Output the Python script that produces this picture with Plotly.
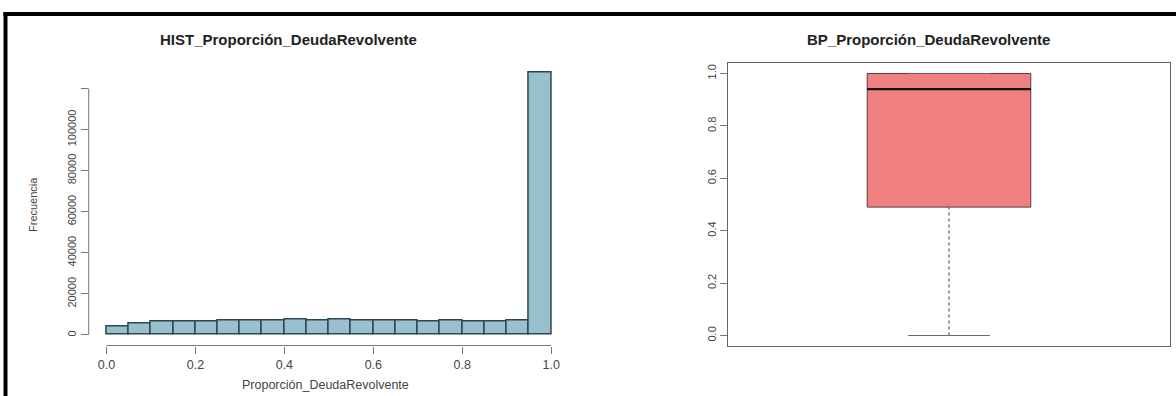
import plotly.graph_objects as go

# ---------------- data ----------------
bin_left = [0.00, 0.05, 0.10, 0.15, 0.20, 0.25, 0.30, 0.35, 0.40, 0.45,
            0.50, 0.55, 0.60, 0.65, 0.70, 0.75, 0.80, 0.85, 0.90, 0.95]
bin_width = 0.05
hist_counts = [3900, 5700, 6400, 6800, 6800, 6900, 6900, 6900, 7400, 6900,
               7400, 7000, 6900, 6900, 6800, 6900, 6800, 6800, 7000, 128000]

hist_yticks = [0, 20000, 40000, 60000, 80000, 100000, 120000]
hist_yticklabels = ["0", "20000", "40000", "60000", "80000", "100000", ""]
hist_xticks = [0.0, 0.2, 0.4, 0.6, 0.8, 1.0]
hist_xticklabels = ["0.0", "0.2", "0.4", "0.6", "0.8", "1.0"]

bp_min = 0.0
bp_q1 = 0.49
bp_median = 0.94
bp_q3 = 1.0
bp_max = 1.0
bp_yticks = [0.0, 0.2, 0.4, 0.6, 0.8, 1.0]
bp_yticklabels = ["0.0", "0.2", "0.4", "0.6", "0.8", "1.0"]

hist_title = "HIST_Proporción_DeudaRevolvente"
bp_title = "BP_Proporción_DeudaRevolvente"
hist_xlabel = "Proporción_DeudaRevolvente"
hist_ylabel = "Frecuencia"

# ---------------- layout constants ----------------
W, H = 1176, 396
FONT = "Liberation Sans, Arial, sans-serif"
TICK_COLOR = "#444"
AXIS_COLOR = "#777"


def px_x(p):
    return p / W


def px_y(p):
    return 1 - p / H


hist_dom_x = [px_x(88.7), px_x(569)]
hist_dom_y = [px_y(345.5), px_y(61.5)]
bp_dom_x = [px_x(728), px_x(1170)]
bp_dom_y = [px_y(346), px_y(63)]

ymax = max(hist_counts)
bp_lo = min(bp_min, bp_q1)
bp_hi = max(bp_max, bp_q3)
bp_pad = 0.04 * (bp_hi - bp_lo)

fig = go.Figure()

# histogram bars
fig.add_trace(go.Bar(
    x=[l + bin_width / 2 for l in bin_left],
    y=hist_counts,
    width=bin_width,
    marker=dict(color="#99C0CD", line=dict(color="#2C4652", width=1.5)),
    xaxis="x", yaxis="y", showlegend=False, hoverinfo="x+y",
))

# box body
BOX_W = 0.37
fig.add_trace(go.Box(
    x=[0], q1=[bp_q1], median=[bp_median], q3=[bp_q3],
    lowerfence=[bp_q1], upperfence=[bp_q3],
    width=BOX_W, whiskerwidth=0, boxpoints=False, orientation="v",
    fillcolor="#F08080", line=dict(color="#5a3a3a", width=1),
    xaxis="x2", yaxis="y2", showlegend=False,
))
# whiskers (dotted)
for lo, hi in [(bp_min, bp_q1), (bp_q3, bp_max)]:
    fig.add_trace(go.Scatter(
        x=[0, 0], y=[lo, hi], mode="lines",
        line=dict(color="#666", width=1.3, dash="dot"),
        xaxis="x2", yaxis="y2", showlegend=False, hoverinfo="skip",
    ))
# caps
for v in [bp_min, bp_max]:
    fig.add_trace(go.Scatter(
        x=[-BOX_W / 4, BOX_W / 4], y=[v, v], mode="lines",
        line=dict(color="#666", width=1),
        xaxis="x2", yaxis="y2", showlegend=False, hoverinfo="skip",
    ))
# median
fig.add_trace(go.Scatter(
    x=[-BOX_W / 2, BOX_W / 2], y=[bp_median, bp_median], mode="lines",
    line=dict(color="#111", width=2.2),
    xaxis="x2", yaxis="y2", showlegend=False, hoverinfo="skip",
))

tickfont = dict(family=FONT, size=11, color=TICK_COLOR)

fig.update_layout(
    width=W, height=H,
    margin=dict(l=0, r=0, t=0, b=0),
    paper_bgcolor="white", plot_bgcolor="white",
    template="none",
    bargap=0,
    xaxis=dict(
        domain=hist_dom_x, range=[-0.04, 1.04], anchor="y",
        tickvals=hist_xticks, ticktext=hist_xticklabels,
        ticks="outside", ticklen=7, tickcolor=AXIS_COLOR, tickwidth=1,
        showline=False, showgrid=False, zeroline=False, automargin=False,
        tickfont=dict(family=FONT, size=12.5, color=TICK_COLOR),
    ),
    yaxis=dict(
        domain=hist_dom_y, range=[-0.04 * ymax, 1.04 * ymax], anchor="x",
        tickvals=hist_yticks, ticktext=hist_yticklabels, tickangle=-90,
        ticks="outside", ticklen=7, tickcolor=AXIS_COLOR, tickwidth=1,
        showline=False, showgrid=False, zeroline=False, automargin=False,
        tickfont=tickfont,
    ),
    xaxis2=dict(
        domain=bp_dom_x, range=[-0.5, 0.5], anchor="y2",
        showticklabels=False, ticks="",
        showline=True, mirror=True, linecolor="#666", linewidth=1,
        showgrid=False, zeroline=False, automargin=False,
    ),
    yaxis2=dict(
        domain=bp_dom_y, range=[bp_lo - bp_pad, bp_hi + bp_pad], anchor="x2",
        tickvals=bp_yticks, ticktext=bp_yticklabels, tickangle=-90,
        ticks="outside", ticklen=7, tickcolor=AXIS_COLOR, tickwidth=1,
        showline=True, mirror=True, linecolor="#666", linewidth=1,
        showgrid=False, zeroline=False, automargin=False,
        tickfont=tickfont,
    ),
    shapes=[
        # R-style axis lines spanning first to last tick
        dict(type="line", xref="x", yref="y domain",
             x0=hist_xticks[0], x1=hist_xticks[-1], y0=0, y1=0,
             line=dict(color=AXIS_COLOR, width=1)),
        dict(type="line", xref="x domain", yref="y",
             x0=0, x1=0, y0=hist_yticks[0], y1=hist_yticks[-1],
             line=dict(color=AXIS_COLOR, width=1)),
        # black page frame (left and top)
        dict(type="rect", xref="paper", yref="paper",
             x0=px_x(3.5), x1=px_x(7.5), y0=0, y1=px_y(12),
             fillcolor="black", line=dict(width=0)),
        dict(type="rect", xref="paper", yref="paper",
             x0=px_x(3.5), x1=1, y0=px_y(16), y1=px_y(12),
             fillcolor="black", line=dict(width=0)),
    ],
    annotations=[
        dict(text="<b>" + hist_title + "</b>", xref="paper", yref="paper",
             x=px_x(288), y=px_y(40), showarrow=False,
             xanchor="center", yanchor="middle",
             font=dict(family=FONT, size=15, color="#222")),
        dict(text="<b>" + bp_title + "</b>", xref="paper", yref="paper",
             x=px_x(928), y=px_y(40), showarrow=False,
             xanchor="center", yanchor="middle",
             font=dict(family=FONT, size=15, color="#222")),
        dict(text=hist_xlabel, xref="paper", yref="paper",
             x=px_x(325), y=px_y(385), showarrow=False,
             xanchor="center", yanchor="middle",
             font=dict(family=FONT, size=12.5, color=TICK_COLOR)),
        dict(text=hist_ylabel, xref="paper", yref="paper",
             x=px_x(33), y=px_y(205), showarrow=False, textangle=-90,
             xanchor="center", yanchor="middle",
             font=dict(family=FONT, size=11, color=TICK_COLOR)),
    ],
)

fig.write_html("out.html")
